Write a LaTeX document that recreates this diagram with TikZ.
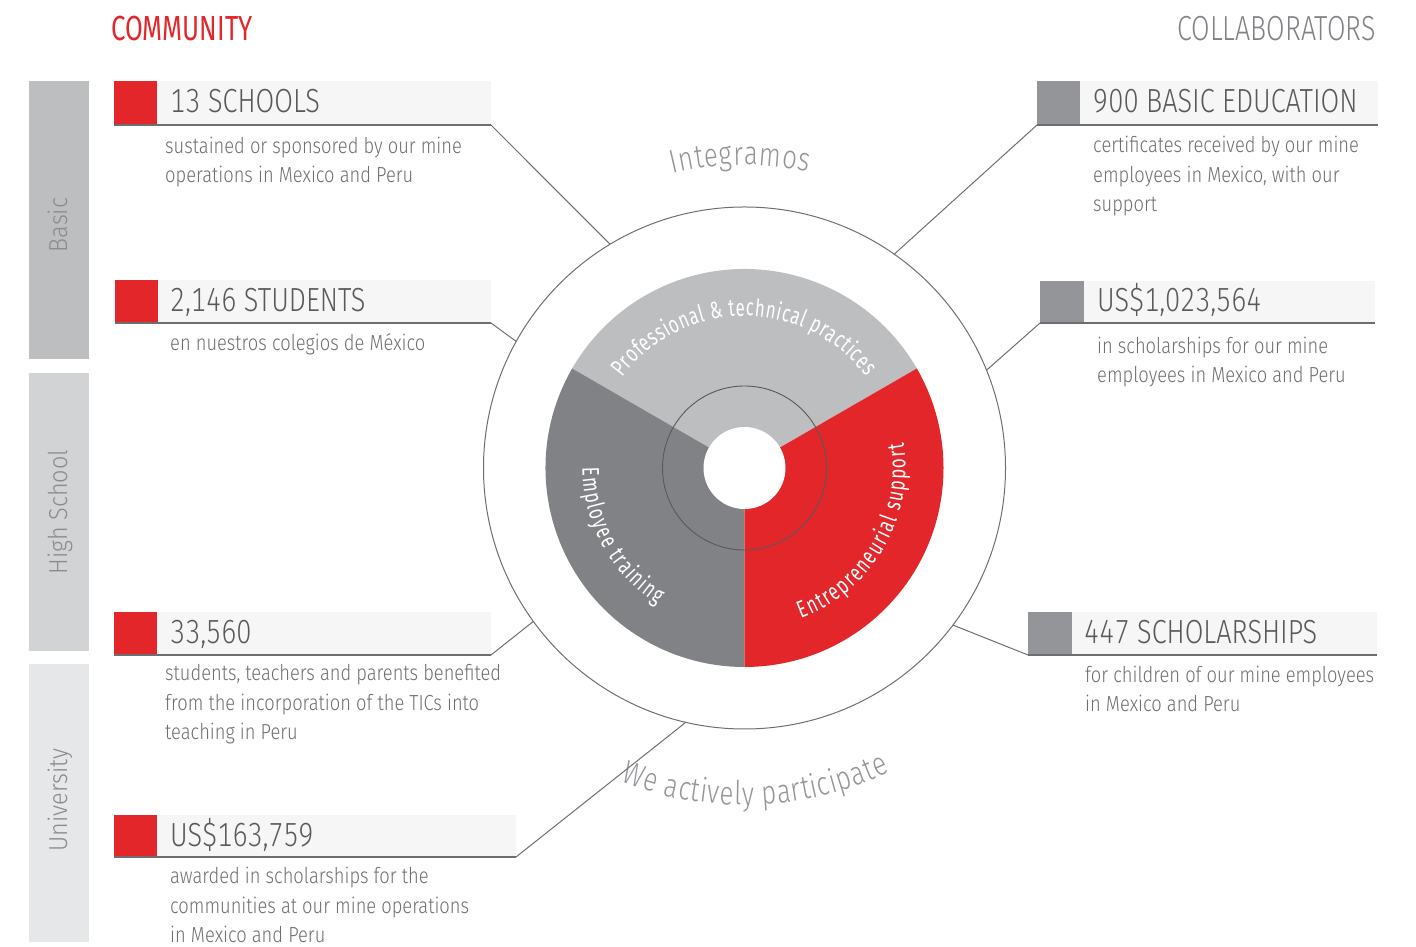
\documentclass[tikz,border=0pt]{standalone}
\usepackage{fontspec}
\usetikzlibrary{decorations.text,calc}
\setmainfont{Fira Sans Light}
\newfontfamily\ttlfnt[FakeStretch=0.81,Numbers=Monospaced]{Fira Sans Light}
\newfontfamily\bdyfnt[FakeStretch=0.84]{Fira Sans Light}
\newfontfamily\vfnt[FakeStretch=0.9]{Fira Sans Light}
\newfontfamily\arcfnt[FakeStretch=0.7]{Fira Sans}
\newfontfamily\outfnt[FakeStretch=0.78]{Fira Sans Light}
\newfontfamily\hdrfnt[FakeStretch=0.74]{Fira Sans}
\newfontfamily\hdrlfnt[FakeStretch=0.77]{Fira Sans Light}
\definecolor{cred}{HTML}{E3262A}
\definecolor{clight}{HTML}{BCBEC0}
\definecolor{cdark}{HTML}{808285}
\definecolor{cgsq}{HTML}{939598}
\definecolor{cbg}{HTML}{F6F6F6}
\definecolor{cline}{HTML}{6D6E71}
\definecolor{ctitle}{HTML}{58595B}
\definecolor{cdesc}{HTML}{6D6E71}
\definecolor{cbarA}{HTML}{BCBEC0}
\definecolor{cbarB}{HTML}{D1D3D4}
\definecolor{cbarC}{HTML}{E6E7E8}
\definecolor{cvlbl}{HTML}{939598}
\definecolor{cvtxt}{HTML}{8A8C8F}
\newcommand\innerlbl{\arcfnt\fontsize{24}{28}\selectfont\color{white}}
\newcommand\outerlbl{\outfnt\fontsize{33}{40}\selectfont\color{cvlbl}}
\begin{document}
\begin{tikzpicture}[x=1pt,y=1pt,
  bgbox/.style={fill=cbg, inner sep=0, outer sep=0, anchor=north west},
  sqbox/.style={inner sep=0, outer sep=0, anchor=north west},
  ttl/.style={anchor=base west, inner sep=0, text=ctitle, font=\ttlfnt\fontsize{33.4}{40}\selectfont},
  dsc/.style={anchor=base west, inner sep=0, text=cdesc, align=left, font=\bdyfnt\fontsize{21.8}{29.5}\selectfont},
  uline/.style={draw=cline, line width=1.5pt},
  conn/.style={draw=cline, line width=1pt},
  vbar/.style={inner sep=0, outer sep=0, anchor=north west, minimum width=60pt, minimum height=278pt},
  vlbl/.style={rotate=90, anchor=base, inner sep=0, text=cvtxt, font=\vfnt\fontsize{26}{30}\selectfont},
  hdr/.style={inner sep=0, font=\hdrfnt\fontsize{34.8}{40}\selectfont}
]
\path[use as bounding box] (0,0) rectangle (1416,947);

% level bars
\node[vbar, fill=cbarA] (barA) at (29,866) {};
\node[vbar, fill=cbarB] (barB) at (29,574) {};
\node[vbar, fill=cbarC] (barC) at (29,283) {};
\node[vlbl] (lblA) at (67,722) {Basic};
\node[vlbl] (lblB) at (67,435) {High School};
\node[vlbl] (lblC) at (67,147) {University};

% headers
\node[hdr, anchor=base west, text=cred] (hcom) at (111,906) {COMMUNITY};
\node[hdr, anchor=base east, text=cdark, font=\hdrlfnt\fontsize{34.8}{40}\selectfont] (hcol) at (1376,906) {COLLABORATORS};

% wheel
\coordinate (c) at (744.5,479);
\fill[clight] (c) -- ([shift={(30:199pt)}]c) arc[start angle=30,end angle=150,radius=199pt] -- cycle;
\fill[cdark] (c) -- ([shift={(150:199pt)}]c) arc[start angle=150,end angle=270,radius=199pt] -- cycle;
\fill[cred] (c) -- ([shift={(270:199pt)}]c) arc[start angle=270,end angle=390,radius=199pt] -- cycle;
\draw[draw=ctitle, line width=0.9pt] (c) circle[radius=82pt];
\fill[white] (c) circle[radius=41pt];
\node[circle, draw=cline, line width=1pt, inner sep=0, outer sep=0, minimum size=522pt] (ring) at (c) {};

% curved labels
\path[decorate, decoration={text along path, text={|\innerlbl|Professional {\&} technical practices}, text align={fit to path}}]
  ([shift={(143.5:152pt)}]c) arc[start angle=143.5, end angle=37, radius=152pt];
\path[decorate, decoration={text along path, text={|\innerlbl|Employee training}, text align={fit to path}}]
  ([shift={(180:162pt)}]c) arc[start angle=180, end angle=237.5, radius=162pt];
\path[decorate, decoration={text along path, text={|\innerlbl|Entrepreneurial support}, text align={fit to path}}]
  ([shift={(-69.5:161pt)}]c) arc[start angle=-69.5, end angle=9, radius=161pt];
\path[decorate, decoration={text along path, text={|\outerlbl|Integramos}, text align={fit to path}}]
  ([shift={(103.7:303pt)}]c) arc[start angle=103.7, end angle=77.9, radius=303pt];
\path[decorate, decoration={text along path, text={|\outerlbl|We actively participate}, text align={fit to path}}]
  ([shift={(248.5:337pt)}]c) arc[start angle=248.5, end angle=295.5, radius=337pt];

% left boxes
\node[bgbox, minimum width=334pt, minimum height=44pt] (l1bg) at (157,866) {};
\node[sqbox, fill=cred, minimum width=43pt, minimum height=44pt] (l1sq) at (114,866) {};
\draw[uline] (l1sq.south west) -- (l1bg.south east);
\draw[conn] (l1bg.south east) -- (ring.121.5);
\node[ttl] (l1t) at (170,834) {13 SCHOOLS};
\node[dsc] (l1d) at (165,764) {sustained or sponsored by our mine\\operations in Mexico and Peru};

\node[bgbox, minimum width=333pt, minimum height=43pt] (l2bg) at (158,667) {};
\node[sqbox, fill=cred, minimum width=43pt, minimum height=43pt] (l2sq) at (115,667) {};
\draw[uline] (l2sq.south west) -- (l2bg.south east);
\draw[conn] (l2bg.south east) -- (ring.151.5);
\node[ttl] (l2t) at (170,635) {2,146 STUDENTS};
\node[dsc] (l2d) at (170,596) {en nuestros colegios de México};

\node[bgbox, minimum width=334pt, minimum height=43pt] (l3bg) at (157,335) {};
\node[sqbox, fill=cred, minimum width=43pt, minimum height=43pt] (l3sq) at (114,335) {};
\draw[uline] (l3sq.south west) -- (l3bg.south east);
\draw[conn] (l3bg.south east) -- (ring.216.8);
\node[ttl] (l3t) at (170,303) {33,560};
\node[dsc] (l3d) at (165,207) {students, teachers and parents benefited\\from the incorporation of the TICs into\\teaching in Peru};

\node[bgbox, minimum width=359pt, minimum height=42pt] (l4bg) at (157,132) {};
\node[sqbox, fill=cred, minimum width=43pt, minimum height=42pt] (l4sq) at (114,132) {};
\draw[uline] (l4sq.south west) -- (l4bg.south east);
\draw[conn] (l4bg.south east) -- (ring.257.5);
\node[ttl] (l4t) at (170,100) {US\$163,759};
\node[dsc] (l4d) at (170,4) {awarded in scholarships for the\\communities at our mine operations\\in Mexico and Peru};

% right boxes
\node[bgbox, minimum width=298pt, minimum height=44pt] (r1bg) at (1080,866) {};
\node[sqbox, fill=cgsq, minimum width=43pt, minimum height=44pt] (r1sq) at (1037,866) {};
\draw[uline] (r1sq.south west) -- (r1bg.south east);
\draw[conn] (r1sq.south west) -- (ring.55.5);
\node[ttl] (r1t) at (1093,834) {900 BASIC EDUCATION};
\node[dsc] (r1d) at (1093,735) {certificates received by our mine\\employees in Mexico, with our\\support};

\node[bgbox, minimum width=291pt, minimum height=42pt] (r2bg) at (1084,666) {};
\node[sqbox, fill=cgsq, minimum width=44pt, minimum height=42pt] (r2sq) at (1040,666) {};
\draw[uline] (r2sq.south west) -- (r2bg.south east);
\draw[conn] (r2sq.south west) -- (ring.22.6);
\node[ttl] (r2t) at (1097,635) {US\$1,023,564};
\node[dsc] (r2d) at (1097,564) {in scholarships for our mine\\employees in Mexico and Peru};

\node[bgbox, minimum width=305pt, minimum height=43pt] (r3bg) at (1072,335) {};
\node[sqbox, fill=cgsq, minimum width=44pt, minimum height=43pt] (r3sq) at (1028,335) {};
\draw[uline] (r3sq.south west) -- (r3bg.south east);
\draw[conn] (r3sq.south west) -- (ring.-37.6);
\node[ttl] (r3t) at (1084,303) {447 SCHOLARSHIPS};
\node[dsc] (r3d) at (1085,235) {for children of our mine employees\\in Mexico and Peru};
\end{tikzpicture}
\end{document}
